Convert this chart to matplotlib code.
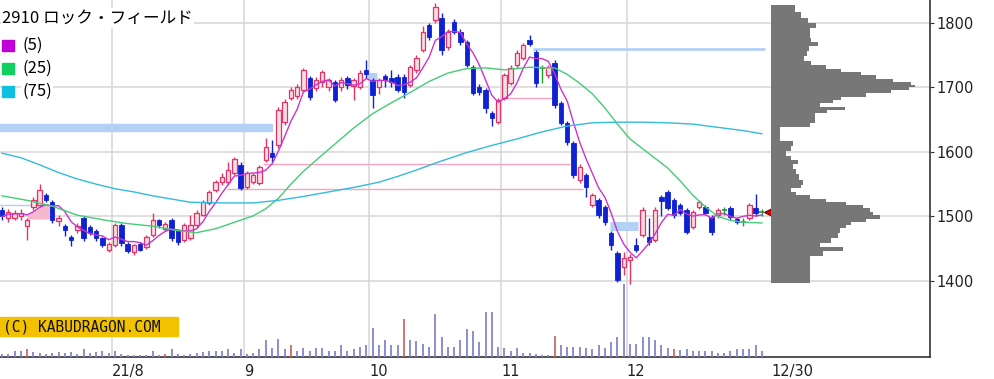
import matplotlib
matplotlib.use("Agg")
import matplotlib.pyplot as plt
from matplotlib.patches import Rectangle
import numpy as np
import pandas as pd

W, H = 995, 379

# daily candles, 2021-07 .. 2021-12-30
opens = [1510, 1498, 1498, 1500, 1485, 1514, 1518, 1533, 1522, 1493,
         1486, 1469, 1479, 1497, 1484, 1477, 1466, 1448, 1456, 1487,
         1457, 1445, 1457, 1452, 1471, 1494, 1481, 1494, 1479, 1463,
         1466, 1487, 1502, 1521, 1541, 1554, 1553, 1567, 1580, 1546,
         1553, 1552, 1587, 1598, 1611, 1646, 1683, 1686, 1696, 1714,
         1699, 1708, 1700, 1708, 1700, 1714, 1702, 1700, 1727, 1711,
         1700, 1717, 1714, 1716, 1716, 1703, 1727, 1758, 1796, 1804,
         1807, 1762, 1801, 1786, 1770, 1731, 1700, 1696, 1660, 1646,
         1683, 1707, 1734, 1745, 1773, 1754, 1730, 1719, 1738, 1675,
         1645, 1614, 1556, 1564, 1518, 1525, 1514, 1474, 1443, 1422,
         1433, 1456, 1471, 1468, 1463, 1530, 1538, 1525, 1518, 1510,
         1484, 1515, 1515, 1499, 1502, 1510, 1513, 1496, 1491, 1497,
         1513, 1507]
closes = [1500, 1507, 1505, 1506, 1494, 1525, 1541, 1526, 1494, 1498,
          1479, 1463, 1486, 1466, 1475, 1466, 1456, 1457, 1487, 1459,
          1447, 1456, 1448, 1468, 1494, 1487, 1488, 1466, 1460, 1487,
          1487, 1505, 1522, 1538, 1553, 1561, 1572, 1589, 1544, 1567,
          1564, 1577, 1607, 1592, 1665, 1677, 1696, 1700, 1727, 1685,
          1711, 1723, 1711, 1680, 1711, 1703, 1711, 1722, 1721, 1688,
          1711, 1711, 1708, 1696, 1693, 1731, 1745, 1785, 1778, 1824,
          1758, 1786, 1786, 1770, 1734, 1691, 1693, 1668, 1652, 1680,
          1719, 1730, 1753, 1765, 1767, 1707, 1730, 1731, 1672, 1645,
          1615, 1564, 1577, 1546, 1533, 1502, 1491, 1456, 1402, 1436,
          1438, 1448, 1510, 1460, 1510, 1524, 1513, 1502, 1505, 1476,
          1507, 1522, 1505, 1476, 1510, 1510, 1499, 1491, 1491, 1518,
          1505, 1507]
highs = [1515, 1512, 1510, 1512, 1498, 1530, 1550, 1536, 1525, 1503,
         1489, 1471, 1490, 1500, 1487, 1480, 1469, 1460, 1490, 1490,
         1460, 1458, 1460, 1472, 1505, 1496, 1492, 1497, 1481, 1490,
         1502, 1510, 1526, 1541, 1556, 1568, 1584, 1592, 1584, 1570,
         1567, 1580, 1622, 1618, 1670, 1682, 1700, 1705, 1730, 1718,
         1716, 1727, 1715, 1712, 1716, 1718, 1714, 1726, 1743, 1714,
         1715, 1720, 1727, 1720, 1720, 1735, 1750, 1795, 1800, 1830,
         1815, 1790, 1805, 1790, 1773, 1734, 1705, 1699, 1663, 1684,
         1722, 1734, 1758, 1768, 1781, 1758, 1735, 1734, 1742, 1678,
         1648, 1617, 1582, 1567, 1536, 1528, 1518, 1477, 1446, 1445,
         1442, 1466, 1515, 1497, 1515, 1533, 1541, 1528, 1521, 1513,
         1510, 1526, 1518, 1502, 1513, 1515, 1516, 1499, 1497, 1521,
         1535, 1512]
lows = [1495, 1492, 1494, 1495, 1463, 1510, 1515, 1522, 1490, 1485,
        1470, 1455, 1474, 1462, 1471, 1462, 1452, 1445, 1452, 1455,
        1443, 1441, 1446, 1449, 1468, 1482, 1478, 1462, 1456, 1460,
        1464, 1484, 1500, 1518, 1538, 1548, 1548, 1564, 1541, 1543,
        1550, 1549, 1584, 1585, 1606, 1642, 1680, 1682, 1693, 1680,
        1695, 1700, 1695, 1677, 1695, 1697, 1680, 1697, 1715, 1668,
        1690, 1700, 1700, 1693, 1683, 1700, 1722, 1754, 1773, 1800,
        1750, 1758, 1782, 1765, 1731, 1688, 1688, 1660, 1640, 1643,
        1680, 1703, 1730, 1742, 1764, 1700, 1707, 1715, 1668, 1642,
        1610, 1560, 1552, 1530, 1515, 1498, 1487, 1448, 1398, 1410,
        1395, 1445, 1468, 1456, 1460, 1500, 1510, 1498, 1502, 1473,
        1481, 1512, 1502, 1472, 1498, 1503, 1495, 1488, 1485, 1494,
        1500, 1500]

volumes = [3, 3.3, 5.7, 5.7, 7.7, 5, 4.3, 3.3, 4.3, 5,
           4.3, 5, 3.3, 7.7, 4.3, 5, 5.7, 4.3, 5.7, 3.3,
           2.3, 2.3, 2.3, 2.3, 5.7, 2.3, 3.3, 7.7, 3.3, 2.3,
           3.3, 4.3, 5, 5.7, 5.7, 5.7, 7.7, 4.3, 7.7, 3.3,
           4.3, 7.7, 16.7, 9, 18.3, 7.7, 12.3, 5.7, 9, 5.7,
           9, 9, 5.7, 5.7, 12.3, 5.7, 7.7, 10, 12.3, 29,
           12.3, 16.7, 12.3, 12.3, 38.3, 16.7, 15.7, 13.3, 10, 43.3,
           20, 10, 10, 16.7, 27.7, 25.7, 15, 45, 45, 10,
           9, 5.7, 9, 4.3, 4.3, 3.3, 2.3, 2.3, 21, 12.3,
           10, 10, 10, 9, 7.7, 12.3, 9, 15, 20, 73.3,
           13.3, 13.3, 20, 20, 16.7, 12.3, 9, 7.7, 6.7, 7.7,
           5.7, 5.7, 5.7, 5.7, 4.3, 4.3, 5.7, 7.7, 7.7, 7.7,
           12.3, 5.7]
vol_red = [4, 26, 46, 64, 88, 107]

# 25-day and 75-day moving averages, read at sample days
ma25_days = [0, 4, 8, 12, 16, 20, 24, 28, 31, 34, 37, 40, 42, 44, 46, 48,
             50, 53, 56, 59, 62, 65, 68, 71, 74, 77, 80, 84, 88, 90, 92,
             94, 96, 98, 100, 102, 104, 106, 108, 110, 112, 114, 116, 118, 121]
ma25 = [1532, 1525, 1516, 1502, 1495, 1489, 1485, 1478, 1475, 1481, 1491, 1501,
        1512, 1528, 1550, 1570, 1587, 1612, 1637, 1659, 1676, 1692, 1709, 1722,
        1729, 1730, 1727, 1731, 1730, 1720, 1706, 1690, 1668, 1643, 1620, 1605,
        1590, 1575, 1555, 1533, 1515, 1500, 1494, 1491, 1490]
ma75_days = [0, 3, 6, 9, 12, 15, 18, 21, 24, 27, 30, 35, 40, 44, 48, 52, 56,
             60, 63, 66, 70, 74, 78, 82, 86, 90, 94, 98, 102, 106, 110, 114,
             118, 121]
ma75 = [1598, 1591, 1580, 1568, 1558, 1550, 1543, 1538, 1532, 1527, 1522, 1521,
        1521, 1525, 1531, 1538, 1545, 1553, 1562, 1572, 1586, 1599, 1610, 1620,
        1631, 1640, 1645, 1646, 1646, 1645, 1643, 1638, 1633, 1628]

# price-by-volume profile
prof_price = [1397, 1404, 1412, 1420, 1428, 1436, 1443, 1450, 1456, 1463, 1471,
              1479, 1484, 1489, 1494, 1499, 1505, 1510, 1515, 1520, 1525, 1530,
              1536, 1541, 1546, 1553, 1561, 1569, 1577, 1584, 1590, 1598, 1606,
              1613, 1621, 1629, 1636, 1641, 1649, 1657, 1662, 1667, 1672, 1678,
              1683, 1688, 1693, 1699, 1702, 1706, 1711, 1716, 1721, 1727, 1731,
              1737, 1745, 1753, 1760, 1768, 1773, 1781, 1789, 1796, 1804, 1812,
              1820, 1828]
prof_vol = [39, 39, 39, 39, 39, 39, 52, 72, 49, 60, 67,
            69, 75, 80, 95, 109, 102, 99, 92, 75, 55, 39,
            25, 20, 30, 32, 28, 25, 22, 27, 20, 15, 20,
            22, 9, 9, 9, 39, 44, 44, 56, 74, 49, 62,
            70, 95, 120, 138, 144, 140, 122, 105, 90, 70, 55,
            40, 33, 36, 38, 47, 40, 39, 39, 45, 37, 30,
            24, 24]

# reference levels (price, from day, to day)
band_price = [1637, 1760, 1485, 1717, 1518]
band_from = [-0.4, 84.6, 96.8, 58.1, -0.4]
band_to = [43.2, 121.5, 101.3, 59.7, 7.6]
pink_price = [1581, 1543, 1683]
pink_from = [41.6, 35.8, 79.3]
pink_to = [90.4, 92.5, 87.6]

month_pos = [17.5, 38.5, 58.5, 79.5, 99.5]
month_labels = ["21/8", "9", "10", "11", "12"]
price_ticks = [1400, 1500, 1600, 1700, 1800]

RED = "#e23366"
UPFILL = "#fbdde6"
BLUE = "#0f22d2"
GREEN = "#1f9a2f"


def fy(y):
    return 1 - y / H


def main():
    fig = plt.figure(figsize=(W / 100, H / 100), dpi=100)
    ax = fig.add_axes([0, 22 / H, 930 / W, 357 / H])

    o = np.array(opens, float)
    c = np.array(closes, float)
    hi = np.array(highs, float)
    lo = np.array(lows, float)
    x = np.arange(len(c))
    up, down, flat = c > o, c < o, c == o

    # reference levels
    widths = [6.0, 2.0, 6.5, 5.0, 1.0]
    for p, a, b, lw in zip(band_price, band_from, band_to, widths):
        ax.hlines(p, a, b, colors="#b3d1f5", lw=lw, zorder=2)
    ax.hlines(pink_price, pink_from, pink_to, colors="#f4a6c4", lw=1.0, zorder=2)

    ma5 = pd.Series(c).rolling(5, min_periods=1).mean().values
    ax.fill_between(x[4:9], ma5[4:9], 1496, where=ma5[4:9] > 1496,
                    color="#f6b8cc", lw=0, zorder=2)

    # candles
    wick = np.where(up, RED, np.where(down, BLUE, GREEN))
    ax.vlines(x, lo, hi, colors=wick, lw=1.0, zorder=3)
    bot = np.minimum(o, c)
    hgt = np.abs(c - o)
    ax.bar(x[up], hgt[up], bottom=bot[up], width=0.7, facecolor=UPFILL,
           edgecolor=RED, lw=0.9, zorder=4)
    ax.bar(x[down], hgt[down], bottom=bot[down], width=0.7, color=BLUE,
           edgecolor=BLUE, lw=0.6, zorder=4)
    ax.hlines(c[flat], x[flat] - 0.4, x[flat] + 0.4, colors=GREEN, lw=1.2, zorder=4)

    # moving averages
    ax.plot(x, ma5, color="#cc33cc", lw=1.0, zorder=5)
    ax.plot(ma25_days, ma25, color="#44cc77", lw=1.0, zorder=5)
    ax.plot(ma75_days, ma75, color="#33bbdd", lw=1.0, zorder=5)

    ax.plot([122.3], [c[-1]], marker="<", ms=8, mfc="#e00000", mec="#500000",
            mew=0.8, clip_on=False, zorder=7)

    ax.set_xlim(-0.32, 147.77)
    ax.set_ylim(1282.5, 1835.1)

    ax.yaxis.tick_right()
    ax.set_yticks(price_ticks)
    ax.tick_params(axis="y", labelsize=10.5, length=3, pad=1.5,
                   color="#333333", labelcolor="#222222")
    ax.set_xticks(month_pos)
    ax.set_xticklabels(month_labels, ha="left")
    ax.set_xticks([122.6], ["12/30"], minor=True)
    for lab in ax.get_xticklabels(minor=True):
        lab.set_ha("left")
    ax.tick_params(axis="x", which="both", labelsize=10.5, length=0, pad=5,
                   labelcolor="#222222")
    ax.grid(True, which="major", color="#d6d6d6", lw=1.1)
    ax.set_axisbelow(True)
    for s in ("top", "left"):
        ax.spines[s].set_visible(False)
    for s in ("right", "bottom"):
        ax.spines[s].set_color("#333333")
        ax.spines[s].set_linewidth(1.2)

    # volume
    vax = fig.add_axes([0, 22 / H, 930 / W, 357 / H], sharex=ax)
    vcol = ["#c86a6a" if i in vol_red else "#8585cc" for i in range(len(volumes))]
    vax.vlines(x, 0, volumes, colors=vcol, lw=1.3)
    vax.set_ylim(0, 357)
    vax.axis("off")

    # price-by-volume profile
    pax = fig.add_axes([771 / W, 22 / H, 159 / W, 357 / H], sharey=ax)
    pax.fill_betweenx(prof_price, 0, prof_vol, step="mid", color="#777777", lw=0)
    pax.set_xlim(0, 159)
    pax.axis("off")
    ax.set_ylim(1282.5, 1835.1)

    # header / legend
    fig.text(2 / W, fy(18), "2910 ロック・フィールド", fontsize=12, ha="left",
             va="center", family=["Noto Sans CJK JP", "DejaVu Sans"],
             bbox=dict(fc="white", ec="none", pad=1))
    legend = [("(5)", "#c000d8", 45), ("(25)", "#10d060", 68), ("(75)", "#10c0e0", 91)]
    for txt, col, yc in legend:
        fig.add_artist(Rectangle((2 / W, fy(yc + 5.5)), 12 / W, 11 / H,
                                 transform=fig.transFigure, color=col))
        fig.text(22 / W, fy(yc), txt, fontsize=12, ha="left", va="center",
                 family=["Noto Sans CJK JP", "DejaVu Sans"],
                 bbox=dict(fc="white", ec="none", pad=1))

    fig.add_artist(Rectangle((0, fy(336)), 178 / W, 19 / H,
                             transform=fig.transFigure, color="#f2c200"))
    fig.text(3 / W, fy(327), "(C) KABUDRAGON.COM", fontsize=10.5, ha="left",
             va="center", family="DejaVu Sans Mono", color="#111111")

    fig.savefig("out.png", dpi=100)


if __name__ == "__main__":
    main()
